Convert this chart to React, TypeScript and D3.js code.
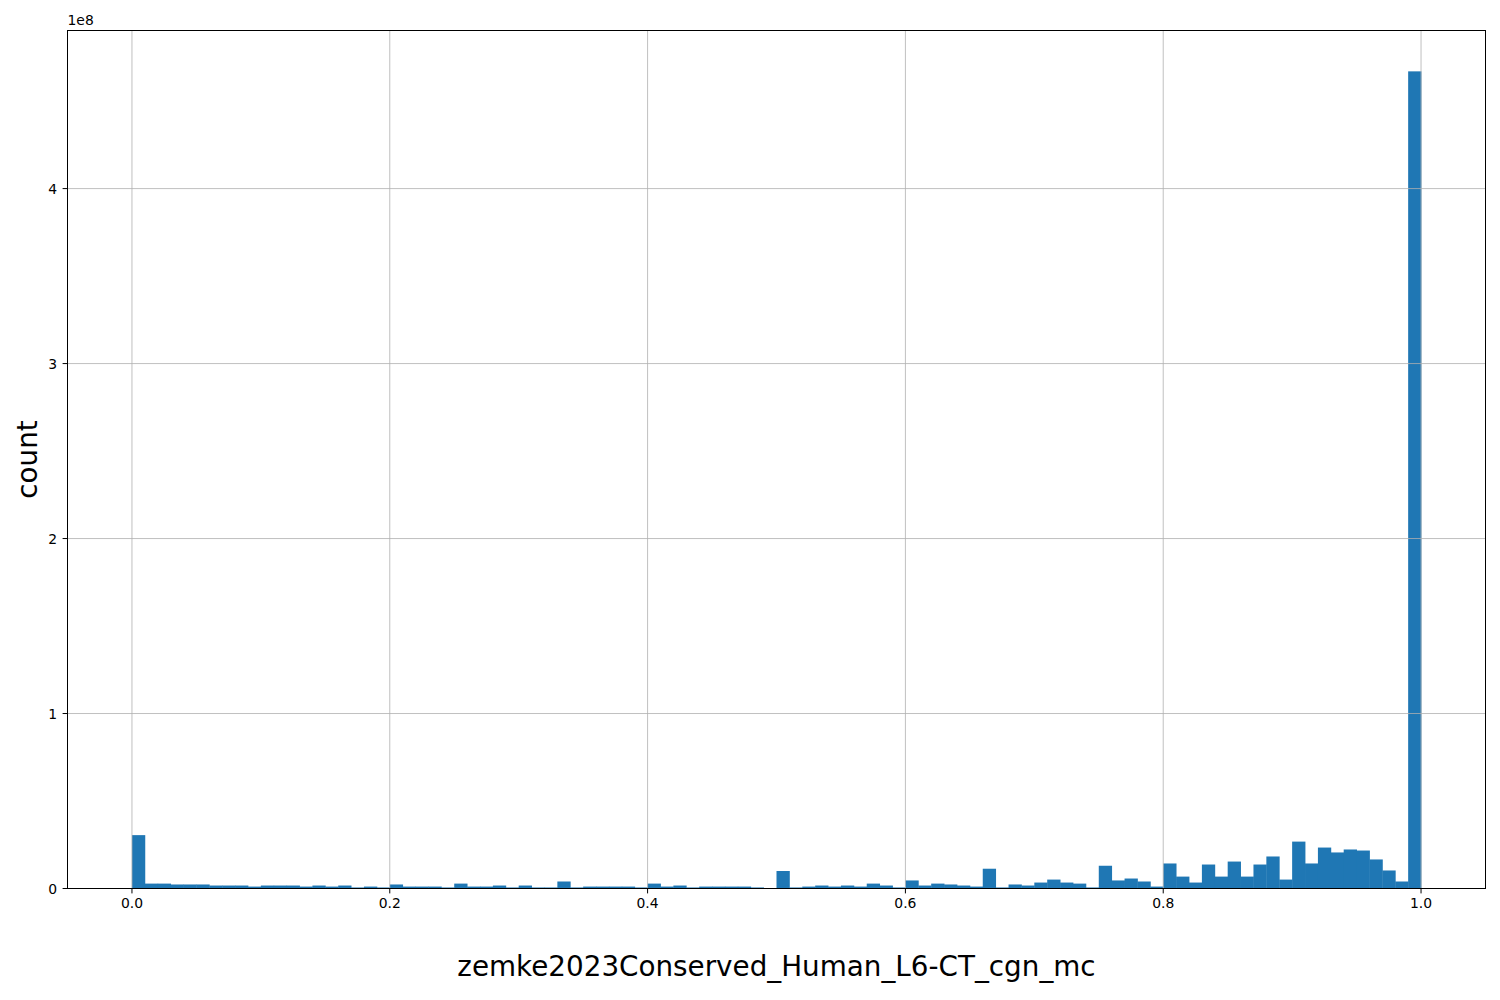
import React from "react";
import * as d3 from "d3";

const binCount = 100;
const counts: number[] = [
  30.5e6, 2.8e6, 2.8e6, 2.3e6, 2.3e6, 2.3e6, 1.7e6, 1.7e6, 1.7e6, 1.1e6,
  1.7e6, 1.7e6, 1.7e6, 1.1e6, 1.7e6, 1.1e6, 1.7e6, 0.6e6, 1.1e6, 0.6e6,
  2.3e6, 1.1e6, 1.1e6, 1.1e6, 0.6e6, 2.8e6, 1.1e6, 1.1e6, 1.7e6, 0.6e6,
  1.7e6, 0.6e6, 0.6e6, 4.0e6, 0.6e6, 1.1e6, 1.1e6, 1.1e6, 1.1e6, 0.6e6,
  2.8e6, 1.1e6, 1.7e6, 0.6e6, 1.1e6, 1.1e6, 1.1e6, 1.1e6, 0.6e6, 0.2e6,
  10.0e6, 0.6e6, 1.1e6, 1.7e6, 1.1e6, 1.7e6, 1.1e6, 2.8e6, 1.7e6, 0.6e6,
  4.6e6, 1.7e6, 2.8e6, 2.3e6, 1.7e6, 1.1e6, 11.3e6, 0.6e6, 2.3e6, 1.7e6,
  3.4e6, 5.1e6, 3.4e6, 2.8e6, 0.6e6, 13.0e6, 4.6e6, 5.7e6, 4.0e6, 1.1e6,
  14.3e6, 6.8e6, 3.4e6, 13.7e6, 6.8e6, 15.4e6, 6.8e6, 13.7e6, 18.3e6, 5.1e6,
  26.8e6, 14.3e6, 23.4e6, 20.6e6, 22.3e6, 21.7e6, 16.6e6, 10.3e6, 4.0e6, 467e6,
];
const xTicks = [0, 0.2, 0.4, 0.6, 0.8, 1.0];
const yTicks = [0, 1e8, 2e8, 3e8, 4e8];
const xLabel = "zemke2023Conserved_Human_L6-CT_cgn_mc";
const yLabel = "count";
const offsetText = "1e8";

export default function App() {
  const W = 1500, H = 1000;
  const left = 67.5, right = 1485.5, top = 30.5, bottom = 888.5;
  const maxC = d3.max(counts) as number;
  const x = d3.scaleLinear().domain([-0.05, 1.05]).range([left, right]);
  const y = d3.scaleLinear().domain([0, maxC * 1.05]).range([bottom, top]);
  const font = "DejaVu Sans, sans-serif";
  const bins = counts.map((c, i) => ({ x0: i / binCount, x1: (i + 1) / binCount, c }));
  return (
    <div style={{ position: "absolute", left: 0, top: 0 }}>
      <svg width={W} height={H} style={{ display: "block", background: "#fff" }}>
        <rect x={0} y={0} width={W} height={H} fill="#fff" />
        {bins.map((b, i) => (
          <rect key={i} x={x(b.x0)} y={y(b.c)} width={x(b.x1) - x(b.x0) + 0.4} height={bottom - y(b.c)} fill="#1f77b4" />
        ))}
        {xTicks.map((t) => (
          <line key={"gx" + t} x1={x(t)} x2={x(t)} y1={top} y2={bottom} stroke="#b0b0b0" strokeWidth={0.8} />
        ))}
        {yTicks.map((t) => (
          <line key={"gy" + t} x1={left} x2={right} y1={y(t)} y2={y(t)} stroke="#b0b0b0" strokeWidth={0.8} />
        ))}
        <rect x={left} y={top} width={right - left} height={bottom - top} fill="none" stroke="#000" strokeWidth={1} />
        {xTicks.map((t) => (
          <g key={"tx" + t}>
            <line x1={x(t)} x2={x(t)} y1={bottom} y2={bottom + 4.9} stroke="#000" strokeWidth={1} />
            <text x={x(t)} y={bottom + 19.5} textAnchor="middle" fontFamily={font} fontSize={13.9} fill="#000">{t.toFixed(1)}</text>
          </g>
        ))}
        {yTicks.map((t) => (
          <g key={"ty" + t}>
            <line x1={left - 4.9} x2={left} y1={y(t)} y2={y(t)} stroke="#000" strokeWidth={1} />
            <text x={left - 10.5} y={y(t) + 5.3} textAnchor="end" fontFamily={font} fontSize={13.9} fill="#000">{String(t / 1e8)}</text>
          </g>
        ))}
        <text x={left} y={25} fontFamily={font} fontSize={13.9} fill="#000">{offsetText}</text>
        <text x={(left + right) / 2} y={976} textAnchor="middle" fontFamily={font} fontSize={27.8} fill="#000">{xLabel}</text>
        <text transform={`translate(37, ${(top + bottom) / 2}) rotate(-90)`} textAnchor="middle" fontFamily={font} fontSize={27.8} fill="#000">{yLabel}</text>
      </svg>
    </div>
  );
}
